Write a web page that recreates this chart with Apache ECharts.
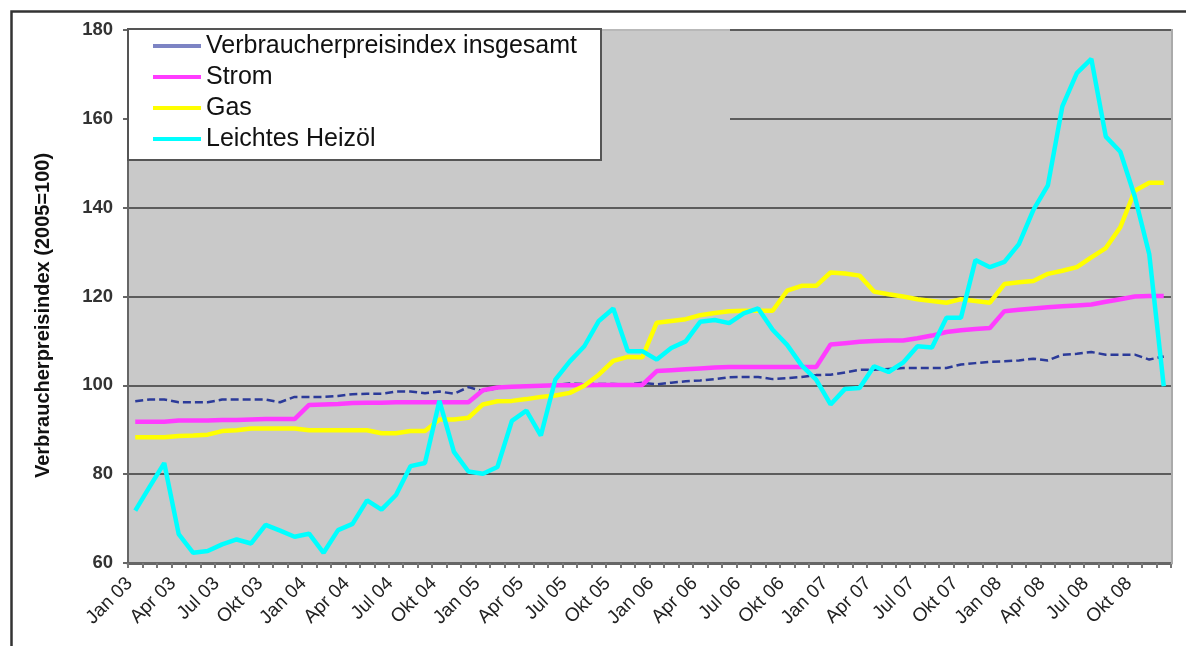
<!DOCTYPE html>
<html>
<head>
<meta charset="utf-8">
<script src="https://cdn.jsdelivr.net/npm/echarts@6/dist/echarts.min.js"></script>
<style>
  html, body { margin: 0; padding: 0; background: #ffffff; }
  #chart { width: 1186px; height: 646px; }
</style>
</head>
<body>
<div id="chart"></div>
<script>
// ---- Data ----
const monthNames = ['Jan', 'Feb', 'Mär', 'Apr', 'Mai', 'Jun', 'Jul', 'Aug', 'Sep', 'Okt', 'Nov', 'Dez'];
const years = ['03', '04', '05', '06', '07', '08'];
const categories = [];
years.forEach(y => monthNames.forEach(m => categories.push(m + ' ' + y)));

const seriesNames = ['Verbraucherpreisindex insgesamt', 'Strom', 'Gas', 'Leichtes Heizöl'];

const vpi = [
  96.4, 96.8, 96.8, 96.2, 96.2, 96.2, 96.8, 96.8, 96.8, 96.8, 96.2, 97.4,
  97.4, 97.4, 97.6, 98.0, 98.1, 98.1, 98.6, 98.6, 98.2, 98.6, 98.1, 99.6,
  98.7, 99.4, 99.8, 99.8, 100.0, 100.1, 100.4, 100.3, 100.3, 100.3, 100.2, 100.6,
  100.2, 100.6, 100.9, 101.1, 101.4, 101.8, 101.9, 101.9, 101.4, 101.6, 101.9, 102.3,
  102.4, 102.9, 103.5, 103.5, 103.7, 103.9, 103.9, 103.9, 103.9, 104.7, 105.0, 105.3,
  105.4, 105.6, 106.0, 105.6, 106.9, 107.1, 107.5, 106.9, 106.9, 106.9, 105.8, 106.5
];
const strom = [
  91.8, 91.8, 91.8, 92.1, 92.1, 92.1, 92.2, 92.2, 92.3, 92.4, 92.4, 92.4,
  95.6, 95.7, 95.8, 96.0, 96.1, 96.1, 96.2, 96.2, 96.2, 96.2, 96.2, 96.2,
  98.9, 99.5, 99.7, 99.8, 99.9, 100.0, 100.0, 100.0, 100.1, 100.1, 100.1, 100.1,
  103.2, 103.4, 103.6, 103.8, 104.0, 104.1, 104.1, 104.1, 104.1, 104.1, 104.1, 104.1,
  109.2, 109.5, 109.8, 110.0, 110.1, 110.1, 110.6, 111.2, 112.0, 112.4, 112.7, 112.9,
  116.7, 117.0, 117.3, 117.6, 117.8, 118.0, 118.2, 118.8, 119.4, 120.0, 120.1, 120.1
];
const gas = [
  88.3, 88.3, 88.3, 88.6, 88.7, 88.9, 89.7, 89.9, 90.3, 90.3, 90.3, 90.3,
  89.9, 89.9, 89.9, 89.9, 89.9, 89.2, 89.2, 89.7, 89.7, 92.3, 92.3, 92.7,
  95.7, 96.4, 96.5, 96.9, 97.4, 97.7, 98.3, 99.9, 102.4, 105.5, 106.4, 106.3,
  114.1, 114.5, 114.9, 115.8, 116.3, 116.7, 116.8, 116.8, 116.8, 121.3, 122.4, 122.4,
  125.4, 125.2, 124.7, 121.1, 120.5, 120.0, 119.4, 119.0, 118.6, 119.4, 119.0, 118.6,
  122.8, 123.2, 123.5, 125.1, 125.8, 126.6, 128.8, 130.9, 135.6, 143.8, 145.6, 145.6
];
const heizoel = [
  71.8, 77.2, 82.5, 66.5, 62.3, 62.7, 64.2, 65.3, 64.4, 68.6, 67.3, 65.9,
  66.6, 62.3, 67.4, 68.8, 74.1, 72.0, 75.3, 81.8, 82.5, 96.5, 85.0, 80.6,
  80.1, 81.6, 92.0, 94.3, 88.7, 101.3, 105.4, 108.8, 114.5, 117.3, 107.7, 107.7,
  105.8, 108.4, 109.9, 114.3, 114.7, 114.0, 116.2, 117.3, 112.5, 109.1, 104.5, 101.3,
  95.7, 99.2, 99.4, 104.3, 103.0, 105.1, 108.8, 108.5, 115.2, 115.2, 128.2, 126.6,
  127.8, 131.8, 139.5, 145.0, 162.8, 170.3, 173.5, 156.0, 152.6, 142.5, 129.5, 99.8
];

const yMin = 60, yMax = 180, yStep = 20;
const yTitle = 'Verbraucherpreisindex (2005=100)';

// ---- Chart ----
const FONT = '"Liberation Sans", Arial, sans-serif';
const chart = echarts.init(document.getElementById('chart'), null, { renderer: 'canvas' });

const option = {
  animation: false,
  backgroundColor: '#ffffff',
  textStyle: { fontFamily: FONT },
  grid: {
    left: 128, right: 15, top: 30, bottom: 83,
    show: true, backgroundColor: '#c9c9c9', borderWidth: 0
  },
  legend: {
    orient: 'vertical',
    left: 153, top: 33,
    padding: 0,
    itemGap: 5,
    icon: 'rect',
    itemWidth: 48, itemHeight: 4,
    z: 5,
    textStyle: { fontSize: 25, lineHeight: 26, color: '#111', fontFamily: FONT },
    data: [
      { name: seriesNames[0], itemStyle: { color: '#7d84c4' } },
      { name: seriesNames[1] },
      { name: seriesNames[2] },
      { name: seriesNames[3] }
    ]
  },
  xAxis: {
    type: 'category',
    data: categories,
    boundaryGap: true,
    axisLine: { lineStyle: { color: '#666', width: 3 } },
    axisTick: { show: true, interval: 0, length: 5, lineStyle: { color: '#777', width: 2 } },
    axisLabel: {
      interval: 2, rotate: 45, fontSize: 19, color: '#222', margin: 12, fontFamily: FONT,
      padding: [0, 8, 0, 0]
    },
    splitLine: { show: false }
  },
  yAxis: {
    type: 'value',
    min: yMin, max: yMax, interval: yStep,
    name: yTitle,
    nameLocation: 'middle',
    nameRotate: 90,
    nameGap: 75,
    nameTextStyle: {
      fontSize: 20, fontWeight: 'bold', color: '#111', fontFamily: FONT,
      padding: [0, 38, 0, 0]
    },
    axisLine: { show: true, lineStyle: { color: '#666', width: 2 } },
    axisTick: { show: true, length: 5, lineStyle: { color: '#666', width: 2 } },
    axisLabel: { fontSize: 18.5, fontWeight: 'bold', color: '#333', margin: 15, fontFamily: FONT },
    splitLine: { show: true, lineStyle: { color: '#5c5c5c', width: 2 } }
  },
  series: [
    {
      name: seriesNames[0], type: 'line', data: vpi, symbol: 'none', z: 2,
      lineStyle: { color: '#2b3a99', width: 2.5, type: [8, 4] },
      itemStyle: { color: '#2b3a99' }
    },
    {
      name: seriesNames[1], type: 'line', data: strom, symbol: 'none', z: 3,
      lineStyle: { color: '#ff3cff', width: 4.5 },
      itemStyle: { color: '#ff3cff' }
    },
    {
      name: seriesNames[2], type: 'line', data: gas, symbol: 'none', z: 4,
      lineStyle: { color: '#ffff00', width: 4.5 },
      itemStyle: { color: '#ffff00' }
    },
    {
      name: seriesNames[3], type: 'line', data: heizoel, symbol: 'none', z: 5,
      lineStyle: { color: '#00ffff', width: 4.5 },
      itemStyle: { color: '#00ffff' }
    }
  ],
  graphic: [
    { type: 'rect', silent: true, z: 10,
      shape: { x: 11.5, y: 11.5, width: 1400, height: 900 },
      style: { fill: 'none', stroke: '#333', lineWidth: 2.5 } },
    { type: 'rect', silent: true, z: 1,
      shape: { x: 601, y: 29, width: 129, height: 92 },
      style: { fill: '#c9c9c9' } },
    { type: 'line', silent: true, z: 1,
      shape: { x1: 601, y1: 30, x2: 730, y2: 30 },
      style: { stroke: '#a8a8a8', lineWidth: 1 } },
    { type: 'line', silent: true, z: 1,
      shape: { x1: 1172, y1: 29, x2: 1172, y2: 564 },
      style: { stroke: '#aaaaaa', lineWidth: 2 } },
    { type: 'rect', silent: true, z: 3,
      shape: { x: 128, y: 29, width: 473, height: 131 },
      style: { fill: '#ffffff', stroke: '#555', lineWidth: 2 } }
  ]
};
chart.setOption(option);
</script>
</body>
</html>
